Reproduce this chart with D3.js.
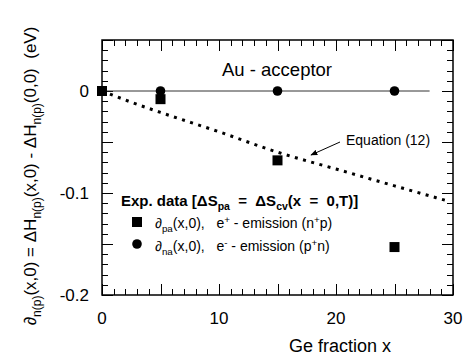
<!DOCTYPE html>
<html>
<head>
<meta charset="utf-8">
<script src="https://cdn.jsdelivr.net/npm/d3@7"></script>
<style>
  html, body { margin: 0; padding: 0; background: #fff; }
  svg { display: block; font-family: "Liberation Sans", Arial, sans-serif; }
</style>
</head>
<body>
<svg id="chart" width="471" height="360"></svg>
<script>
// Measured shift of the Au acceptor level vs Ge fraction
const paX = [0, 5, 15, 25];              // e+ emission (n+p)
const paY = [0, -0.008, -0.068, -0.153];
const naX = [5, 15, 25];                 // e- emission (p+n)
const naY = [0, 0, 0];

// Equation (12) curve
const eqX = [0, 2.5, 5, 10, 15, 20, 25, 29.3];
const eqY = [0, -0.011, -0.021, -0.040, -0.060, -0.0765, -0.093, -0.107];

// Zero reference line
const refX = [0, 28];
const refY = [0, 0];

const xMajor = [0, 10, 20, 30];
const yMajor = [0, -0.1, -0.2];
const yMajorLabels = ["0", "-0.1", "-0.2"];

const svg = d3.select("#chart");
const x = d3.scaleLinear().domain([0, 30]).range([102, 453]);
const y = d3.scaleLinear().domain([-0.2, 0.05]).range([295, 40]);

const [x0, x1] = x.range();
const [yb, yt] = y.range();

// Ticks: minor every 1 (x) / 0.01 (y), longer every 5 / 0.05, pointing inward on all sides
const xTicks = d3.range(0, 31, 1);
const yTicks = d3.range(-20, 6, 1).map(v => v / 100);
const tk = svg.append("g").attr("stroke", "#000").attr("stroke-width", 1);
xTicks.forEach(v => {
  const len = v % 5 === 0 ? 11 : 6;
  const px = Math.round(x(v)) + 0.5;
  tk.append("line").attr("x1", px).attr("x2", px).attr("y1", yb).attr("y2", yb - len);
  tk.append("line").attr("x1", px).attr("x2", px).attr("y1", yt).attr("y2", yt + len);
});
yTicks.forEach(v => {
  const len = Math.round(v * 100) % 5 === 0 ? 11 : 6;
  const py = Math.round(y(v)) + 0.5;
  tk.append("line").attr("x1", x0).attr("x2", x0 + len).attr("y1", py).attr("y2", py);
  tk.append("line").attr("x1", x1).attr("x2", x1 - len).attr("y1", py).attr("y2", py);
});

// Frame
svg.append("rect").attr("x", x0).attr("y", yt).attr("width", x1 - x0).attr("height", yb - yt)
  .attr("fill", "none").attr("stroke", "#000").attr("stroke-width", 1.5);

// Tick labels
svg.append("g").selectAll("text").data(xMajor).join("text")
  .attr("x", d => x(d)).attr("y", 324).attr("text-anchor", "middle")
  .attr("font-size", 17).text(d => d);
svg.append("g").selectAll("text").data(yMajor).join("text")
  .attr("x", 89).attr("y", d => y(d) + 6).attr("text-anchor", "end")
  .attr("font-size", 17).text((d, i) => yMajorLabels[i]);

// Axis titles
svg.append("text").attr("x", 340).attr("y", 352).attr("text-anchor", "middle")
  .attr("font-size", 18).text("Ge fraction x");

const yt_ = svg.append("text").attr("transform", "translate(36,176) rotate(-90)")
  .attr("text-anchor", "middle").attr("font-size", 17);
const parts = [["∂", 0], ["n(p)", 1], ["(x,0) = ΔH", 0], ["n(p)", 1], ["(x,0) - ΔH", 0], ["n(p)", 1], ["(0,0)\u00a0\u00a0(eV)", 0]];
let prevSub = 0;
parts.forEach(([t, sub]) => {
  const ts = yt_.append("tspan").text(t);
  if (sub) ts.attr("font-size", 12);
  const dy = (sub ? 5 : 0) - (prevSub ? 5 : 0);
  if (dy) ts.attr("dy", dy);
  prevSub = sub;
});

// Zero line
svg.append("path")
  .attr("d", d3.line().x((d, i) => x(refX[i])).y((d, i) => y(refY[i]))(refX))
  .attr("fill", "none").attr("stroke", "#333").attr("stroke-width", 1);

// Equation (12) dotted curve
svg.append("path")
  .attr("d", d3.line().curve(d3.curveMonotoneX).x((d, i) => x(eqX[i])).y((d, i) => y(eqY[i]))(eqX))
  .attr("fill", "none").attr("stroke", "#000").attr("stroke-width", 3)
  .attr("stroke-dasharray", "3 5.5");

// Markers
svg.append("g").selectAll("circle").data(naX).join("circle")
  .attr("cx", d => x(d)).attr("cy", (d, i) => y(naY[i])).attr("r", 4.8).attr("fill", "#000");
svg.append("g").selectAll("rect").data(paX).join("rect")
  .attr("x", d => x(d) - 5).attr("y", (d, i) => y(paY[i]) - 5)
  .attr("width", 10).attr("height", 10).attr("fill", "#000");

// Labels
svg.append("text").attr("x", 277).attr("y", 76).attr("text-anchor", "middle")
  .attr("font-size", 18.5).text("Au - acceptor");
svg.append("text").attr("x", 346).attr("y", 145).attr("font-size", 14).text("Equation (12)");

// Arrow to the curve
svg.append("defs").append("marker").attr("id", "ah").attr("viewBox", "0 0 10 10")
  .attr("refX", 9).attr("refY", 5).attr("markerWidth", 7).attr("markerHeight", 7)
  .attr("orient", "auto").append("path").attr("d", "M0,1 L10,5 L0,9 Z").attr("fill", "#000");
svg.append("line").attr("x1", 340).attr("y1", 142).attr("x2", 311).attr("y2", 155)
  .attr("stroke", "#000").attr("stroke-width", 1).attr("marker-end", "url(#ah)");

// Legend
function richText(xp, yp, size, weight, segs) {
  const t = svg.append("text").attr("x", xp).attr("y", yp).attr("font-size", size)
    .attr("font-weight", weight).attr("xml:space", "preserve").style("white-space", "pre");
  let shift = 0;
  segs.forEach(([s, kind]) => {
    const target = kind === "sub" ? 4 : kind === "sup" ? -5 : 0;
    const ts = t.append("tspan").text(s);
    if (kind) ts.attr("font-size", size * 0.7);
    if (target - shift) ts.attr("dy", target - shift);
    shift = target;
  });
  return t;
}
richText(121, 206, 15, "bold", [["Exp. data [ΔS", 0], ["pa", "sub"], ["  =  ΔS", 0], ["cv", "sub"], ["(x  =  0,T)]", 0]]);
richText(155, 228, 14, "normal", [["∂", 0], ["pa", "sub"], ["(x,0),   e", 0], ["+", "sup"], [" - emission (n", 0], ["+", "sup"], ["p)", 0]]);
richText(155, 251, 14, "normal", [["∂", 0], ["na", "sub"], ["(x,0),   e", 0], ["-", "sup"], [" - emission (p", 0], ["+", "sup"], ["n)", 0]]);

svg.append("rect").attr("x", 132).attr("y", 217).attr("width", 10).attr("height", 10).attr("fill", "#000");
svg.append("circle").attr("cx", 137).attr("cy", 244).attr("r", 4.8).attr("fill", "#000");
</script>
</body>
</html>
